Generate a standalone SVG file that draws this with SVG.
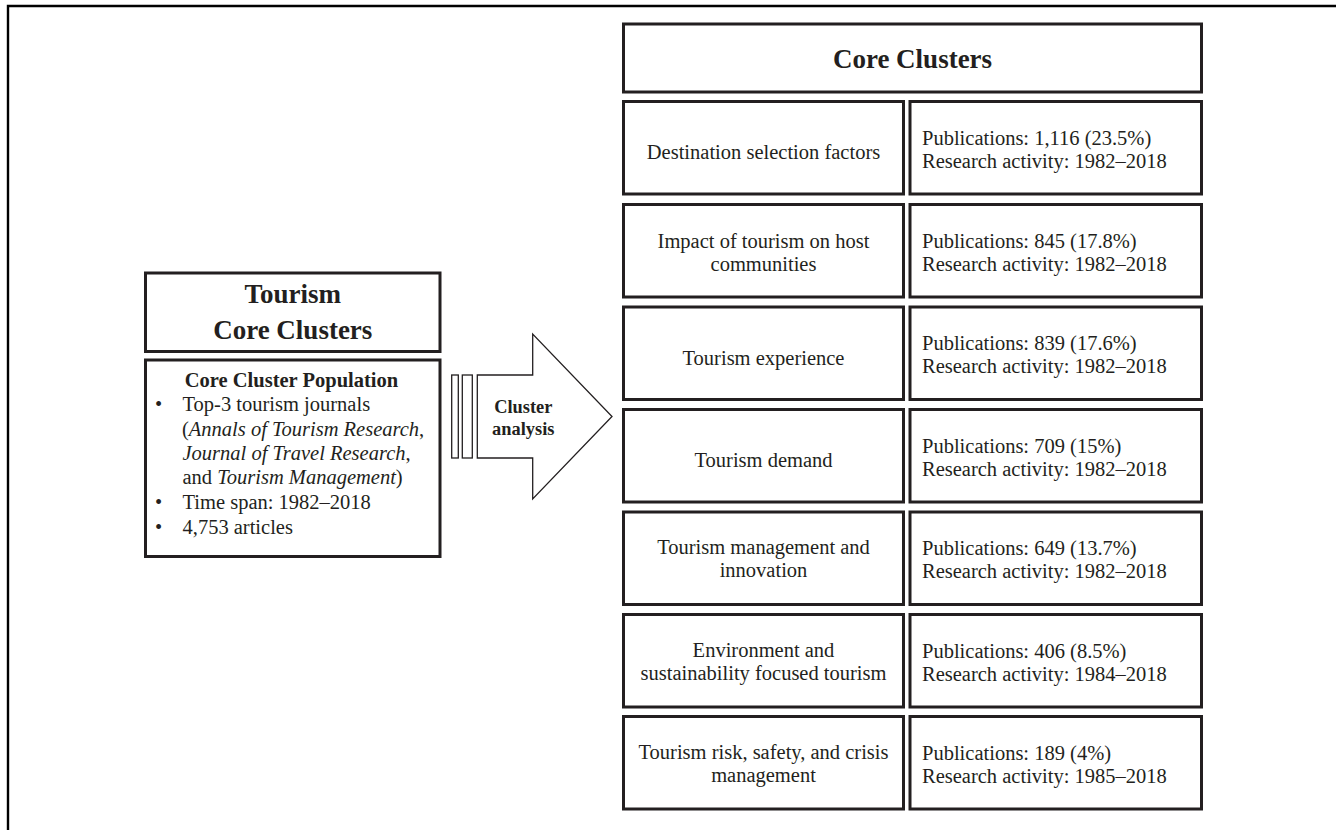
<svg xmlns="http://www.w3.org/2000/svg" width="1336" height="830" viewBox="0 0 1336 830">
<style>
.box{fill:#fff;stroke:#231f20;stroke-width:3}
.thin{fill:#fff;stroke:#231f20;stroke-width:1.3}
text{font-family:"Liberation Serif","Times New Roman",serif;fill:#231f20}
.t{font-size:20.5px}
.c{text-anchor:middle}
.b{font-weight:bold}
.h{font-size:27px;font-weight:bold;text-anchor:middle}
.i{font-style:italic}
</style>
<rect width="1336" height="830" fill="#fff"/>
<g id="frame">
<path d="M8 830 V6 H1336" fill="none" stroke="#000" stroke-width="2.4"/>
</g>
<g id="left-title">
<rect class="box" x="145.5" y="273" width="294.5" height="78.5"/>
<text class="h" x="292.75" y="303.3">Tourism</text>
<text class="h" x="292.75" y="339.3">Core Clusters</text>
</g>
<g id="left-population">
<rect class="box" x="145.5" y="360" width="294.5" height="196.5"/>
<text class="t b c" x="291.5" y="387">Core Cluster Population</text>
<text class="t" x="155" y="411.3">•</text>
<text class="t" x="182.5" y="411.3">Top-3 tourism journals</text>
<text class="t" x="182" y="435.6">(<tspan class="i">Annals of Tourism Research</tspan>,</text>
<text class="t" x="182.5" y="459.9"><tspan class="i">Journal of Travel Research</tspan>,</text>
<text class="t" x="182.5" y="484.2">and <tspan class="i">Tourism Management</tspan>)</text>
<text class="t" x="155" y="509">•</text>
<text class="t" x="182.5" y="509">Time span: 1982–2018</text>
<text class="t" x="155" y="533.5">•</text>
<text class="t" x="182.5" y="533.5">4,753 articles</text>
</g>
<g id="connectors">
<rect class="thin" x="451.7" y="375" width="6.6" height="83"/>
<rect class="thin" x="462.3" y="375" width="10" height="83"/>
<path class="thin" d="M477.3 375 H532.7 V334 L612 416.5 L532.7 499 V458 H477.3 Z"/>
<text class="b c" style="font-size:18.4px" x="523.3" y="413.3">Cluster</text>
<text class="b c" style="font-size:18.4px" x="523.3" y="435">analysis</text>
</g>
<g id="core-header">
<rect class="box" x="623.5" y="24" width="578" height="68"/>
<text class="h" x="912.5" y="68.3">Core Clusters</text>
</g>
<g id="row1">
<rect class="box" x="623.5" y="101.5" width="280" height="92.5"/>
<text class="t c" x="763.5" y="159">Destination selection factors</text>
<rect class="box" x="910" y="101.5" width="291.5" height="92.5"/>
<text class="t" x="922" y="144.5">Publications: 1,116 (23.5%)</text>
<text class="t" x="922" y="167.5">Research activity: 1982–2018</text>
</g>
<g id="row2">
<rect class="box" x="623.5" y="204.5" width="280" height="92.5"/>
<text class="t c" x="763.5" y="247.5">Impact of tourism on host</text>
<text class="t c" x="763.5" y="270.5">communities</text>
<rect class="box" x="910" y="204.5" width="291.5" height="92.5"/>
<text class="t" x="922" y="247.5">Publications: 845 (17.8%)</text>
<text class="t" x="922" y="270.5">Research activity: 1982–2018</text>
</g>
<g id="row3">
<rect class="box" x="623.5" y="307" width="280" height="92.5"/>
<text class="t c" x="763.5" y="364.5">Tourism experience</text>
<rect class="box" x="910" y="307" width="291.5" height="92.5"/>
<text class="t" x="922" y="350">Publications: 839 (17.6%)</text>
<text class="t" x="922" y="373">Research activity: 1982–2018</text>
</g>
<g id="row4">
<rect class="box" x="623.5" y="409.5" width="280" height="92.5"/>
<text class="t c" x="763.5" y="467">Tourism demand</text>
<rect class="box" x="910" y="409.5" width="291.5" height="92.5"/>
<text class="t" x="922" y="452.5">Publications: 709 (15%)</text>
<text class="t" x="922" y="475.5">Research activity: 1982–2018</text>
</g>
<g id="row5">
<rect class="box" x="623.5" y="512" width="280" height="92.5"/>
<text class="t c" x="763.5" y="554">Tourism management and</text>
<text class="t c" x="763.5" y="577">innovation</text>
<rect class="box" x="910" y="512" width="291.5" height="92.5"/>
<text class="t" x="922" y="555">Publications: 649 (13.7%)</text>
<text class="t" x="922" y="578">Research activity: 1982–2018</text>
</g>
<g id="row6">
<rect class="box" x="623.5" y="614.5" width="280" height="92.5"/>
<text class="t c" x="763.5" y="656.5">Environment and</text>
<text class="t c" x="763.5" y="679.5">sustainability focused tourism</text>
<rect class="box" x="910" y="614.5" width="291.5" height="92.5"/>
<text class="t" x="922" y="657.5">Publications: 406 (8.5%)</text>
<text class="t" x="922" y="680.5">Research activity: 1984–2018</text>
</g>
<g id="row7">
<rect class="box" x="623.5" y="716.5" width="280" height="92.5"/>
<text class="t c" x="763.5" y="758.5">Tourism risk, safety, and crisis</text>
<text class="t c" x="763.5" y="781.5">management</text>
<rect class="box" x="910" y="716.5" width="291.5" height="92.5"/>
<text class="t" x="922" y="759.5">Publications: 189 (4%)</text>
<text class="t" x="922" y="782.5">Research activity: 1985–2018</text>
</g>
</svg>
